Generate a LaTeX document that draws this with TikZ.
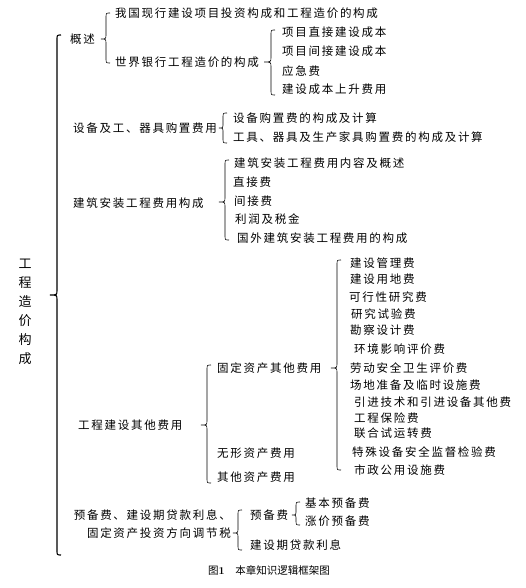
\documentclass[tikz,border=0pt]{standalone}
\usepackage{fontspec}
\newfontfamily\cjk[LetterSpace=15]{Noto Sans CJK SC}
\newfontfamily\cjktitle{Noto Sans CJK SC}
\newcommand\mybrace[6][0.6pt]{%
  % #2 line x, #3 top y, #4 bottom y, #5 tip y, #6 tip x
  \draw[line width=#1]
    ({#2+4},#3) .. controls (#2,#3) .. (#2,{#3+5})
    -- (#2,{#5-5}) .. controls (#2,#5) .. (#6,#5)
    .. controls (#2,#5) .. (#2,{#5+5})
    -- (#2,{#4-5}) .. controls (#2,#4) .. ({#2+4},#4);}
\begin{document}
\begin{tikzpicture}[x=1pt,y=-1pt,
  txt/.style={anchor=west,inner sep=0pt,font=\cjk\fontsize{11.5}{14}\selectfont},
  txtr/.style={anchor=east,inner sep=0pt,align=right,font=\cjk\fontsize{11.5}{18}\selectfont}]
\useasboundingbox (0,0) rectangle (525,588);
% root
\node[inner sep=0pt,align=center,font=\cjktitle\fontsize{13}{19}\selectfont] (root) at (25,312) {工\\程\\造\\价\\构\\成};
\mybrace[1.1pt]{57}{35}{555}{295}{50}
% group 1
\node[txt] (n1) at (70,39) {概述};
\mybrace{106}{13}{63}{39}{101}
\node[txt] (n11) at (115,13) {我国现行建设项目投资构成和工程造价的构成};
\node[txt] (n12) at (115,62) {世界银行工程造价的构成};
\mybrace{271}{30}{95}{62}{264}
\node[txt] (n121) at (282,32) {项目直接建设成本};
\node[txt] (n122) at (282,51) {项目间接建设成本};
\node[txt] (n123) at (282,71) {应急费};
\node[txt] (n124) at (282,89) {建设成本上升费用};
% group 2
\node[txt] (n2) at (73,128) {设备及工、器具购置费用};
\mybrace{223}{113}{143}{128}{219}
\node[txt] (n21) at (233,118) {设备购置费的构成及计算};
\node[txt] (n22) at (233,137) {工具、器具及生产家具购置费的构成及计算};
% group 3
\node[txt] (n3) at (73,203) {建筑安装工程费用构成};
\mybrace{225}{160}{240}{202}{219}
\node[txt] (n31) at (234,163) {建筑安装工程费用内容及概述};
\node[txt] (n32) at (233,182) {直接费};
\node[txt] (n33) at (234,201) {间接费};
\node[txt] (n34) at (235,219) {利润及税金};
\node[txt] (n35) at (237,238) {国外建筑安装工程费用的构成};
% group 4
\node[txt] (n4) at (78,425) {工程建设其他费用};
\mybrace{207}{365}{483}{425}{201}
\node[txt] (n41) at (217,368) {固定资产其他费用};
\mybrace{337}{260}{470}{368}{331}
\node[txt] (a1) at (350,263) {建设管理费};
\node[txt] (a2) at (350,279) {建设用地费};
\node[txt] (a3) at (349,297) {可行性研究费};
\node[txt] (a4) at (351,314) {研究试验费};
\node[txt] (a5) at (350,330) {勘察设计费};
\node[txt] (a6) at (354,349) {环境影响评价费};
\node[txt] (a7) at (350,368) {劳动安全卫生评价费};
\node[txt] (a8) at (350,385) {场地准备及临时设施费};
\node[txt] (a9) at (354,402) {引进技术和引进设备其他费};
\node[txt] (a10) at (354,418) {工程保险费};
\node[txt] (a11) at (354,433) {联合试运转费};
\node[txt] (a12) at (352,452) {特殊设备安全监督检验费};
\node[txt] (a13) at (354,470) {市政公用设施费};
\node[txt] (n42) at (217,453) {无形资产费用};
\node[txt] (n43) at (217,477) {其他资产费用};
% group 5
\node[txtr] (n5) at (231,524) {预备费、建设期贷款利息、\\固定资产投资方向调节税};
\mybrace{238}{510}{550}{533}{233}
\node[txt] (n51) at (250,515) {预备费};
\mybrace{296}{502}{525}{515}{292}
\node[txt] (n511) at (305,503) {基本预备费};
\node[txt] (n512) at (305,521) {涨价预备费};
\node[txt] (n52) at (250,545) {建设期贷款利息};
% caption
\node[inner sep=0pt,font=\cjktitle\fontsize{10.5}{12}\selectfont] (cap) at (269,570) {图{\rmfamily\bfseries 1}\quad 本章知识逻辑框架图};
\end{tikzpicture}
\end{document}
